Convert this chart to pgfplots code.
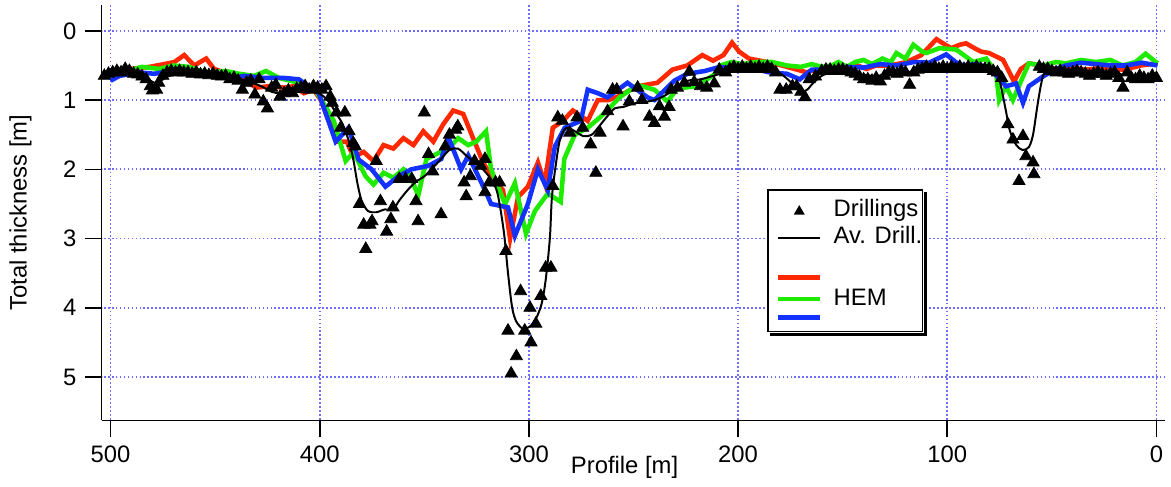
\documentclass[border=0pt]{standalone}
\usepackage{fontspec}
\setmainfont{Liberation Sans}
\usepackage{pgfplots}
\pgfplotsset{compat=1.18}

\definecolor{hemred}{RGB}{255,40,0}
\definecolor{hemgreen}{RGB}{30,235,0}
\definecolor{hemblue}{RGB}{20,50,255}
\definecolor{gridblue}{RGB}{110,110,255}

\begin{document}
\fontsize{12}{14}\selectfont
\begin{tikzpicture}
\begin{axis}[
    width=534bp, height=208.5bp, scale only axis,
    x dir=reverse, y dir=reverse,
    xmin=-4.3, xmax=504.3, ymin=-0.374, ymax=5.626,
    axis x line*=bottom, axis y line*=left,
    axis line style={-, line width=0.8pt},
    xtick={0,100,...,500}, ytick={0,1,...,5},
    tick align=outside, major tick length=8.5bp,
    tick style={black, line width=0.8pt},
    /pgf/number format/assume math mode=true,
    grid=major,
    grid style={gridblue, line width=0.9pt, dash pattern=on 0.9pt off 1.1pt},
    xlabel={Profile [m]},
    xlabel style={at={(axis description cs:0.4916,-0.067)}, anchor=north},
    ylabel={Total thickness [m]},
    ylabel style={at={(axis description cs:-0.058,0.5)}, anchor=south},
    legend image code/.code={\path (-4bp,0bp);\draw[mark repeat=2,mark phase=2,#1]
        plot coordinates {(0cm,0cm) (0.375cm,0cm) (0.75cm,0cm)};},
    legend style={name=leg, at={(0.6255,0.5564)}, anchor=north west,
        draw=black, line width=0.8pt, inner xsep=0bp, inner ysep=3bp,
        nodes={inner xsep=0pt, inner ysep=0pt, text height=9pt, text depth=2.5pt},
        /tikz/every odd column/.append style={column sep=5.5bp}},
    legend cell align=left,
]
% HEM, red
\addplot[hemred, line width=2.3pt, forget plot] coordinates {
(500,0.62)(491,0.55)(481.4,0.52)(474.3,0.48)(469.5,0.45)(464.8,0.35)(460,0.5)
(454.3,0.4)(450.5,0.55)(445.7,0.6)(438.6,0.65)(433.8,0.75)(430.5,0.82)(424.3,0.8)
(417,0.82)(412.4,0.8)(407.6,0.9)(402.9,0.85)(399.5,1.0)(395.7,1.3)(391,1.6)
(387.1,1.6)(383.8,1.82)(379,1.75)(374.3,1.88)(369.5,1.65)(364.8,1.7)(360,1.55)
(355.2,1.65)(350.5,1.45)(345.7,1.6)(341,1.35)(336.2,1.15)(331.4,1.2)(326.7,1.55)
(321.9,1.9)(317.1,2.15)(312.4,2.3)(309,3.0)(305.2,2.4)(300.5,2.25)(295.7,1.9)
(292.4,2.2)(288.6,1.4)(283.8,1.3)(279,1.15)(271.9,1.3)(267.1,1.0)(262,1.0)
(257.6,0.95)(248,0.8)(238.6,0.75)(231.4,0.56)(224.3,0.5)(217.1,0.35)(212,0.43)
(207,0.35)(202.9,0.17)(199.5,0.3)(194.8,0.4)(186.2,0.45)(179,0.5)(173,0.55)
(167.1,0.6)(162,0.55)(157.6,0.58)(152,0.53)(148.1,0.55)(143,0.5)(138.6,0.55)
(134,0.5)(129,0.5)(124,0.48)(119.5,0.45)(112.4,0.35)(105.2,0.12)(101,0.2)
(98.1,0.25)(94,0.2)(91,0.18)(87,0.25)(83.8,0.3)(80,0.32)(73.3,0.42)(68.1,0.73)
(64.8,0.55)(60.9,0.47)(55,0.5)(48.1,0.55)(41,0.53)(33.8,0.56)(25,0.53)(16.2,0.56)
(10,0.52)(7.6,0.5)(-0.5,0.47)
};
% HEM, green
\addplot[hemgreen, line width=2.3pt, forget plot] coordinates {
(500,0.6)(495,0.55)(491,0.57)(485,0.52)(476.7,0.55)(470,0.5)(462.4,0.52)
(457,0.58)(452.9,0.6)(445,0.58)(438.6,0.62)(431.4,0.65)(425.7,0.58)(419.5,0.68)
(410,0.75)(402.9,0.82)(398.1,1.05)(393.3,1.3)(387.6,1.88)(383.8,1.75)(378.1,2.1)
(374.3,2.22)(369.5,2.05)(364.8,2.12)(360,2.0)(356.7,2.1)(352.9,2.38)(349,1.85)
(344.3,1.78)(338.6,1.7)(333.8,1.55)(329,1.65)(325.2,1.6)(320.5,1.45)(318.1,2.0)
(311.4,2.5)(306.7,2.2)(301.4,2.93)(297.1,2.6)(291,2.35)(284.8,2.47)(283.1,1.85)
(278.1,1.5)(271.9,1.4)(265.7,1.24)(256.2,0.95)(248.1,0.78)(240,0.85)(233.8,1.02)
(229,0.83)(219.5,0.8)(211.4,0.63)(208.6,0.5)(203,0.45)(198.1,0.48)(191,0.45)
(183.8,0.45)(176.7,0.5)(170,0.52)(164.8,0.48)(160,0.52)(155.2,0.5)(152,0.45)
(148,0.52)(144,0.45)(140,0.42)(136,0.48)(131,0.4)(127,0.45)(124.3,0.32)(120,0.4)
(116.2,0.2)(112,0.3)(110,0.32)(103.8,0.25)(95.7,0.27)(87.6,0.45)(81.4,0.4)
(76.7,0.6)(75.2,1.0)(71.9,0.8)(68.6,1.0)(63.8,0.66)(61,0.47)(54,0.5)(48,0.45)
(43.3,0.47)(36,0.42)(29,0.45)(22,0.42)(16.2,0.5)(10,0.45)(5.2,0.33)(-0.5,0.47)
};
% HEM, blue
\addplot[hemblue, line width=2.3pt, forget plot] coordinates {
(500,0.72)(495.7,0.65)(486.2,0.6)(479,0.62)(471.9,0.58)(462.4,0.58)(457.6,0.65)
(448.1,0.62)(441,0.68)(436.2,0.65)(426.7,0.68)(417.1,0.68)(410,0.7)(405.2,0.8)
(400.5,0.9)(392.4,1.6)(386.2,1.4)(381.4,1.86)(375.2,2.0)(368.6,2.25)(362.4,2.1)
(356.2,2.0)(348.1,1.95)(341.9,1.85)(338.6,1.53)(332.4,2.0)(329,1.8)(321,2.3)
(318.1,2.5)(310,2.55)(306.7,2.96)(300.5,2.5)(295.7,2.0)(291,2.3)(287.6,1.67)
(282.9,1.4)(275.2,1.3)(271.9,0.85)(267.1,0.9)(262.4,0.96)(252.9,0.75)(243.3,0.96)
(240,1.0)(230.5,0.72)(224.3,0.62)(216,0.58)(208.6,0.52)(200,0.55)(192.4,0.55)
(185,0.6)(176.7,0.62)(170.5,0.7)(164.8,0.56)(156.2,0.56)(148,0.52)(140,0.53)
(132,0.48)(124.3,0.5)(116,0.45)(108.6,0.46)(100.5,0.34)(96,0.45)(92.4,0.5)
(86,0.48)(80,0.53)(71.9,0.8)(67.1,0.76)(63.8,1.04)(61,0.8)(54.3,0.66)(48,0.55)
(43.3,0.5)(36,0.46)(29,0.48)(22,0.5)(14.8,0.5)(7,0.46)(-0.5,0.5)
};
% Av. Drill.
\addplot[black, line width=1pt, smooth, forget plot] coordinates {
(502,0.65)(495,0.6)(488,0.6)(483,0.68)(479,0.75)(476,0.72)(472,0.65)(465,0.62)
(455,0.62)(445,0.65)(435,0.72)(428,0.8)(423,0.88)(419,0.9)(414,0.87)(408,0.85)
(402,0.88)(398,0.95)(395,1.05)(392,1.2)(389,1.35)(386,1.6)(384,1.85)(382,2.2)
(380,2.45)(377,2.6)(373,2.62)(369,2.58)(365,2.58)(362,2.45)(358,2.3)(354,2.18)
(350,2.1)(346,1.98)(342,1.85)(338,1.72)(334,1.7)(330,1.8)(326,1.9)(322,2.0)
(318,2.15)(315,2.35)(312,2.9)(310,3.5)(308,4.0)(306,4.2)(303,4.3)(300,4.28)
(297,4.18)(294,3.95)(292,3.6)(290,3.0)(289,2.4)(287,1.9)(285,1.55)(282,1.4)
(278,1.45)(274,1.52)(270,1.5)(267,1.4)(263,1.25)(259,1.12)(255,1.1)(250,1.05)
(245,1.03)(240,1.0)(236,0.95)(232,0.88)(228,0.8)(224,0.72)(218,0.7)(212,0.65)
(206,0.6)(200,0.56)(190,0.55)(182,0.58)(177,0.68)(173,0.8)(170,0.88)(167,0.85)
(164,0.75)(160,0.65)(155,0.6)(145,0.62)(135,0.65)(125,0.62)(115,0.58)(105,0.55)
(90,0.55)(80,0.57)(76,0.62)(74,0.85)(72,1.15)(70,1.45)(67,1.65)(64,1.72)(61,1.68)
(59,1.5)(57,1.1)(55,0.75)(53,0.6)(45,0.58)(35,0.6)(25,0.62)(15,0.63)(5,0.65)(0,0.65)
};
% Drillings
\addplot[only marks, mark=triangle*, mark size=3.5pt, black, forget plot] coordinates {
(503,0.65)(501,0.62)(499,0.6)(497,0.58)(495,0.6)(493,0.55)(491,0.58)(489,0.62)
(487,0.63)(485,0.66)(483,0.7)(481,0.8)(480,0.86)(478,0.85)(477,0.75)(475,0.65)
(473,0.6)(471,0.58)(469,0.6)(467,0.58)(465,0.6)(463,0.6)(461,0.62)(459,0.6)
(457,0.63)(455,0.62)(453,0.64)(451,0.62)(449,0.65)(447,0.66)(445,0.65)(443,0.7)
(441,0.68)(439,0.72)(437,0.85)(435,0.75)(433,0.72)(431,0.92)(429,0.7)(427,1.02)
(425,1.12)(423,0.82)(421,0.78)(419,0.95)(417,0.9)(415,0.86)(413,0.9)(411,0.84)
(409,0.82)(407,0.8)(405,0.85)(403,0.8)(401,0.82)(399,0.85)(397,0.8)
(395,0.95)(394,1.04)(392,1.18)(390,1.4)(388,1.18)(386,1.45)(384,1.62)(383,1.67)
(381,2.5)(379,2.8)(378,3.15)(376,2.8)(375,2.75)(373,1.88)(371,2.46)(368,2.9)
(366,2.72)(365,2.55)(362,2.14)(359,2.14)(356,2.14)(354,2.46)(353,2.75)(350,1.18)
(348,1.78)(346,2.03)(342,2.65)(340,1.67)(338,1.5)(335,1.43)(334,1.38)(331,2.19)
(330,2.39)(328,2.1)(326,1.88)(323,1.95)(321,1.85)(321,2.33)(319,2.19)(316,2.19)
(314,2.19)(311,3.18)(310,4.33)(308.5,4.95)(306,4.7)(304,3.76)(302,4.33)(299.5,4.0)
(299,4.5)(296.7,4.23)(294.3,3.83)(292,3.42)(289.5,3.42)(288.6,2.24)(286.2,1.25)
(284,1.3)(280.5,1.47)(277,1.25)(274.3,1.4)(270.5,1.64)(268,2.05)(266,1.47)
(262.4,1.16)(260,0.85)(258,0.85)(255,1.38)(252,1.02)(248,0.82)(246,1.0)(242.4,1.24)
(240,1.33)(237.6,1.09)(235.2,1.24)(233,1.1)(232,0.85)(229,0.82)(225.7,0.75)
(223.3,0.59)(221,0.74)(218,0.8)(215,0.82)(211.4,0.76)(209,0.56)(206,0.6)(204,0.55)
(202,0.52)(200,0.55)(198,0.52)(196,0.55)(194,0.52)(192,0.55)(190,0.52)(188,0.55)
(186,0.52)(184,0.55)(182,0.6)(180,0.85)(177,0.85)(174,0.8)(172,0.8)(170,0.88)
(168,0.96)(166,0.7)(163,0.66)(160,0.58)(158,0.56)(156,0.56)(154,0.58)(152,0.56)
(150,0.56)(148,0.58)(146,0.6)(144,0.62)(142,0.66)(140,0.7)(138,0.7)(136,0.72)
(134,0.68)(132,0.73)(130,0.65)(128,0.6)(126,0.6)(124,0.62)(122,0.58)(120,0.6)
(118,0.78)(116,0.6)(114,0.56)(112,0.55)(110,0.52)(108,0.55)(106,0.52)(104,0.55)
(102,0.52)(100,0.55)(98,0.52)(96,0.55)(94,0.52)(92,0.55)(90,0.52)(88,0.55)
(86,0.52)(84,0.55)(82,0.55)(80,0.55)(78,0.58)(76,0.6)(74,0.68)(71,1.35)(68.6,1.57)
(65.7,2.17)(63.8,1.52)(62.4,1.81)(59,1.9)(58.6,2.07)(56,0.52)(54,0.55)(52,0.55)
(50,0.58)(48,0.6)(46,0.58)(44,0.6)(42,0.62)(40,0.6)(38,0.58)(36,0.6)(34,0.62)
(32,0.65)(30,0.62)(28,0.6)(26,0.62)(24,0.65)(22,0.62)(20,0.6)(18,0.68)(16,0.82)
(14,0.6)(12,0.68)(10,0.7)(8,0.65)(6,0.68)(4,0.7)(2,0.65)(0,0.68)
};
\addlegendimage{only marks, mark=triangle*, mark size=2.4pt, black}
\addlegendentry[text height=10.5bp, text depth=5bp]{Drillings}
\addlegendimage{black, line width=1pt}
\addlegendentry[text height=8.5bp, text depth=2.5bp]{Av. Drill.}
\addlegendimage{empty legend}
\addlegendentry[text height=4.5bp, text depth=4.5bp]{}
\addlegendimage{hemred, line width=2.3pt}
\addlegendentry[text height=9bp, text depth=2bp]{}
\addlegendimage{hemgreen, line width=2.3pt}
\addlegendentry[text height=8.5bp, text depth=2bp]{HEM}
\addlegendimage{hemblue, line width=2.3pt}
\addlegendentry[text height=7bp, text depth=1bp]{}
\end{axis}
\fill[black] ([xshift=0.4pt,yshift=-1.6pt]leg.north east)
  rectangle ([xshift=1.7pt,yshift=-1.7pt]leg.south east);
\fill[black] ([xshift=1.6pt,yshift=-0.4pt]leg.south west)
  rectangle ([xshift=1.7pt,yshift=-1.7pt]leg.south east);
\path ([xshift=-51bp,yshift=2.5bp]current axis.north west)
  rectangle ([xshift=0.5bp,yshift=-28.5bp]current axis.south east);
\end{tikzpicture}
\end{document}
